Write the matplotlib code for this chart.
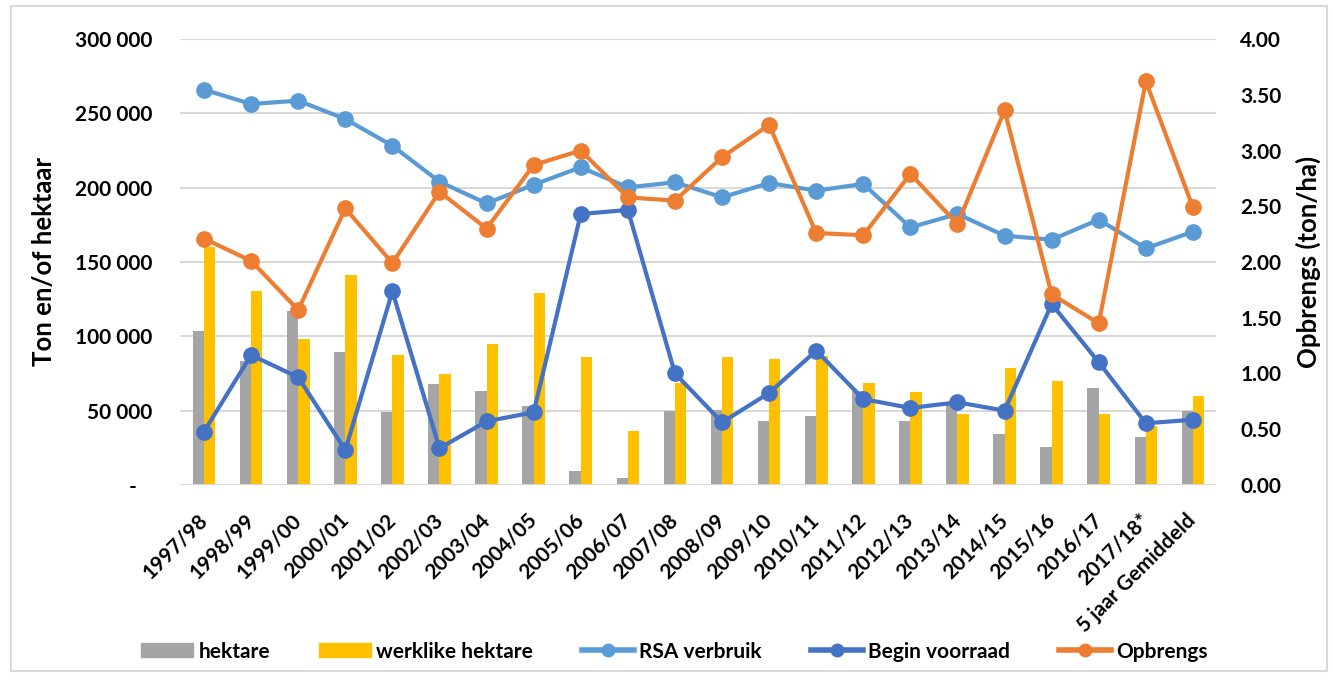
import matplotlib
matplotlib.use("Agg")
import matplotlib.pyplot as plt
import numpy as np
from matplotlib.patches import Rectangle
from matplotlib.lines import Line2D

categories = ["1997/98", "1998/99", "1999/00", "2000/01", "2001/02", "2002/03", "2003/04",
              "2004/05", "2005/06", "2006/07", "2007/08", "2008/09", "2009/10", "2010/11",
              "2011/12", "2012/13", "2013/14", "2014/15", "2015/16", "2016/17", "2017/18*",
              "5 jaar Gemiddeld"]
hektare = [103800, 83600, 117300, 89200, 48900, 67900, 63400, 52900, 9600, 4700, 50000,
           50700, 42800, 46600, 63400, 42800, 54500, 34300, 25300, 65200, 32100, 50000]
werklike_hektare = [159900, 130700, 98200, 141500, 87700, 74700, 94800, 129400, 85900, 36500,
                    68400, 86300, 85000, 87000, 68600, 62800, 47800, 78500, 69700, 47800,
                    39900, 60100]
rsa_verbruik = [265900, 256300, 258500, 246200, 228200, 204000, 189400, 202000, 213700, 200200,
                203600, 193500, 203100, 198000, 202500, 173300, 182300, 167700, 165000, 178500,
                159200, 170400]
begin_voorraad = [35900, 87400, 72400, 23500, 130300, 24700, 42800, 48900, 182300, 185000,
                  75100, 42100, 61900, 90400, 57800, 51800, 55600, 50000, 121700, 82500,
                  41500, 43900]
opbrengs = [2.21, 2.01, 1.57, 2.48, 1.99, 2.63, 2.30, 2.87, 3.00, 2.58, 2.55, 2.94, 3.23,
            2.26, 2.24, 2.79, 2.34, 3.36, 1.71, 1.45, 3.62, 2.49]
left_ticks = [0, 50000, 100000, 150000, 200000, 250000, 300000]
left_ticklabels = ["-   ", "50 000", "100 000", "150 000", "200 000", "250 000", "300 000"]
right_ticks = [0, 0.5, 1.0, 1.5, 2.0, 2.5, 3.0, 3.5, 4.0]

FONT = ["Lato", "DejaVu Sans"]
plt.rcParams['font.family'] = FONT

c_gray = "#A5A5A5"
c_yellow = "#FFC000"
c_rsa = "#5B9BD5"
c_begin = "#4472C4"
c_opb = "#ED7D31"
c_grid = "#D9D9D9"
FS = 15

fig = plt.figure(figsize=(13.33, 6.82), dpi=100)
ax = fig.add_axes([0.1354, 0.2889, 0.7772, 0.6539])
ax2 = ax.twinx()

x = np.arange(len(categories))
bw = 0.24
ax.bar(x - bw / 2, hektare, width=bw, color=c_gray, zorder=2)
ax.bar(x + bw / 2, werklike_hektare, width=bw, color=c_yellow, zorder=2)
ax.plot(x, rsa_verbruik, color=c_rsa, lw=3, marker="o", ms=11, zorder=4)
ax.plot(x, begin_voorraad, color=c_begin, lw=3, marker="o", ms=11, zorder=4)
ax2.plot(x, opbrengs, color=c_opb, lw=3, marker="o", ms=11, zorder=5)

ax.set_xlim(-0.5, len(categories) - 0.5)
ax.set_ylim(0, 300000)
ax2.set_ylim(0, 4.0)
ax.set_yticks(left_ticks)
ax.set_yticklabels(left_ticklabels)
ax2.set_yticks(right_ticks)
ax2.set_yticklabels([f"{v:.2f}" for v in right_ticks])
ax.set_xticks(x)
ax.set_xticklabels(categories, rotation=45, ha="right", va="center", rotation_mode="anchor")

for a in (ax, ax2):
    for s in ("top", "left", "right", "bottom"):
        a.spines[s].set_visible(False)
ax.axhline(0, color=c_grid, lw=2, zorder=3)
ax.grid(axis="y", color=c_grid, lw=1.5, zorder=0)
ax.set_axisbelow(True)
ax.tick_params(axis="y", length=0, pad=20, labelsize=FS)
ax2.tick_params(axis="y", length=0, pad=17, labelsize=FS)
ax.tick_params(axis="x", length=0, pad=23, labelsize=FS)
for lab in ax.get_yticklabels() + ax2.get_yticklabels() + ax.get_xticklabels():
    lab.set_fontweight("bold")

ax.set_ylabel("Ton en/of hektaar", fontsize=18.5, fontweight="bold", labelpad=14)
ax2.set_ylabel("Opbrengs (ton/ha)", fontsize=18.5, fontweight="bold", labelpad=10)

handles = [
    Rectangle((0, 0), 1, 1, color=c_gray),
    Rectangle((0, 0), 1, 1, color=c_yellow),
    Line2D([], [], color=c_rsa, lw=4, marker="o", ms=9),
    Line2D([], [], color=c_begin, lw=4, marker="o", ms=9),
    Line2D([], [], color=c_opb, lw=4, marker="o", ms=9),
]
labels = ["hektare", "werklike hektare", "RSA verbruik", "Begin voorraad", "Opbrengs"]
fig.legend(handles, labels, loc="center", bbox_to_anchor=(0.506, 1 - 651.5 / 682), ncol=5,
           frameon=False, prop={"weight": "bold", "size": FS}, handlelength=2.5,
           handleheight=0.65, handletextpad=0.25, columnspacing=2.35)

fig.patches.append(Rectangle((11 / 1333, 11 / 682), 1 - 17 / 1333, 1 - 17 / 682,
                             transform=fig.transFigure, fill=False, edgecolor=c_grid, lw=1.5))

fig.savefig("out.png", dpi=100)
